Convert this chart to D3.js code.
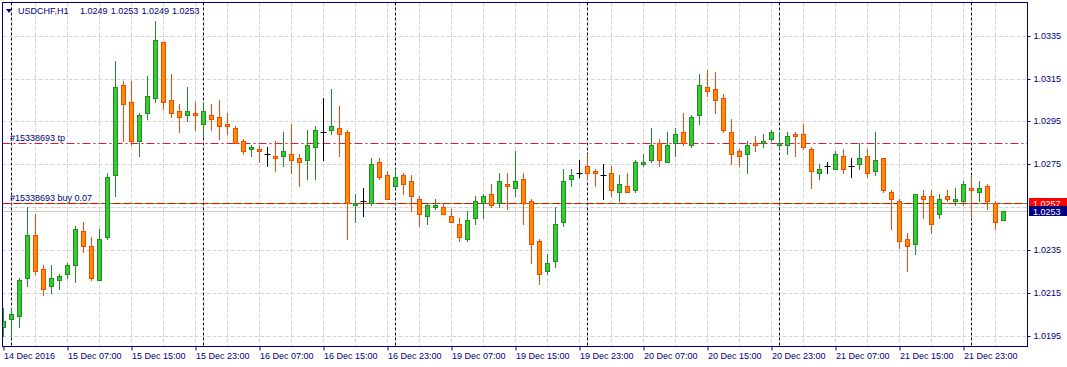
<!DOCTYPE html>
<meta charset="utf-8">
<style>

body { margin: 0; background: #fff; }

svg {
  display: block;
  font-family: "Liberation Sans", Arial, sans-serif;
  font-size: 9px;
}

.grid line {
  stroke: #d4d4d4;
  stroke-dasharray: 4,2;
}

.sep line {
  stroke: #000080;
  stroke-dasharray: 3,2;
}

.axis text { fill: #000080; font-family: "Liberation Sans", Arial, sans-serif; font-size: 9px; }
.axis line { stroke: #000080; }

</style>
<body>
  <svg></svg>
</body>
<script src="https://cdn.jsdelivr.net/npm/d3@7"></script>
<script>

// ---- data ----
var symbol = "USDCHF,H1";

var timeLabels = ["14 Dec 2016", "15 Dec 07:00", "15 Dec 15:00", "15 Dec 23:00",
  "16 Dec 07:00", "16 Dec 15:00", "16 Dec 23:00", "19 Dec 07:00", "19 Dec 15:00",
  "19 Dec 23:00", "20 Dec 07:00", "20 Dec 15:00", "20 Dec 23:00", "21 Dec 07:00",
  "21 Dec 15:00", "21 Dec 23:00"];
var labelBars = [0, 8, 16, 24, 32, 40, 48, 56, 64, 72, 80, 88, 96, 104, 112, 120];
var daySeparators = [1, 25, 49, 73, 97, 121];

var priceGrid = [1.0195, 1.0215, 1.0235, 1.0255, 1.0275, 1.0295, 1.0315, 1.0335];
var priceLabels = [1.0195, 1.0215, 1.0235, 1.0275, 1.0295, 1.0315, 1.0335];

var opens = [1.0199, 1.0203, 1.0204, 1.0222, 1.0242, 1.0226, 1.0218, 1.0221, 1.0224, 1.0228,
  1.0244, 1.0237, 1.0221, 1.0241, 1.0270, 1.0312, 1.0304, 1.0286, 1.0299, 1.0306,
  1.0332, 1.0305, 1.0300, 1.0298, 1.0299, 1.0294, 1.0298, 1.0297, 1.0294, 1.0292,
  1.0286, 1.0282, 1.0282, 1.0280, 1.0279, 1.0279, 1.0280, 1.0278, 1.0277, 1.0283,
  1.0290, 1.0291, 1.0292, 1.0290, 1.0256, 1.0258, 1.0257, 1.0276, 1.0270, 1.0265,
  1.0270, 1.0267, 1.0259, 1.0251, 1.0255, 1.0255, 1.0251, 1.0247, 1.0240, 1.0250,
  1.0257, 1.0261, 1.0257, 1.0266, 1.0264, 1.0268, 1.0258, 1.0239, 1.0225, 1.0230,
  1.0248, 1.0268, 1.0271, 1.0274, 1.0272, 1.0270, 1.0271, 1.0262, 1.0265, 1.0263,
  1.0275, 1.0277, 1.0285, 1.0276, 1.0285, 1.0290, 1.0284, 1.0298, 1.0311, 1.0310,
  1.0306, 1.0290, 1.0281, 1.0280, 1.0285, 1.0285, 1.0287, 1.0284, 1.0284, 1.0289,
  1.0289, 1.0282, 1.0271, 1.0274, 1.0273, 1.0279, 1.0274, 1.0275, 1.0279, 1.0272,
  1.0278, 1.0262, 1.0258, 1.0240, 1.0238, 1.0260, 1.0260, 1.0252, 1.0260, 1.0258,
  1.0258, 1.0264, 1.0262, 1.0265, 1.0257, 1.0249];

var highs = [1.0208, 1.0208, 1.0222, 1.0255, 1.0252, 1.0228, 1.0228, 1.0224, 1.0229, 1.0246,
  1.0248, 1.0241, 1.0245, 1.0271, 1.0323, 1.0314, 1.0314, 1.0299, 1.0316, 1.0342,
  1.0332, 1.0317, 1.0303, 1.0311, 1.0304, 1.0304, 1.0303, 1.0305, 1.0299, 1.0293,
  1.0287, 1.0284, 1.0284, 1.0283, 1.0286, 1.0290, 1.0294, 1.0280, 1.0291, 1.0293,
  1.0306, 1.0310, 1.0302, 1.0291, 1.0261, 1.0264, 1.0278, 1.0278, 1.0272, 1.0273,
  1.0271, 1.0270, 1.0260, 1.0257, 1.0259, 1.0257, 1.0254, 1.0250, 1.0253, 1.0260,
  1.0261, 1.0266, 1.0271, 1.0271, 1.0281, 1.0271, 1.0259, 1.0240, 1.0233, 1.0255,
  1.0273, 1.0273, 1.0277, 1.0280, 1.0273, 1.0275, 1.0274, 1.0270, 1.0271, 1.0277,
  1.0280, 1.0292, 1.0287, 1.0290, 1.0292, 1.0299, 1.0298, 1.0317, 1.0319, 1.0318,
  1.0308, 1.0296, 1.0282, 1.0286, 1.0288, 1.0289, 1.0291, 1.0290, 1.0290, 1.0290,
  1.0294, 1.0283, 1.0275, 1.0276, 1.0281, 1.0282, 1.0278, 1.0285, 1.0282, 1.0290,
  1.0278, 1.0263, 1.0259, 1.0243, 1.0261, 1.0263, 1.0263, 1.0261, 1.0263, 1.0264,
  1.0267, 1.0270, 1.0267, 1.0266, 1.0258, 1.0253];

var lows = [1.0195, 1.0195, 1.0199, 1.0218, 1.0224, 1.0214, 1.0215, 1.0217, 1.0222, 1.0220,
  1.0234, 1.0221, 1.0221, 1.0240, 1.0260, 1.0286, 1.0284, 1.0279, 1.0296, 1.0304,
  1.0301, 1.0297, 1.0290, 1.0295, 1.0291, 1.0288, 1.0291, 1.0287, 1.0289, 1.0285,
  1.0280, 1.0279, 1.0276, 1.0274, 1.0272, 1.0274, 1.0271, 1.0265, 1.0268, 1.0268,
  1.0277, 1.0289, 1.0279, 1.0240, 1.0248, 1.0251, 1.0256, 1.0268, 1.0259, 1.0264,
  1.0261, 1.0253, 1.0246, 1.0247, 1.0254, 1.0252, 1.0248, 1.0239, 1.0239, 1.0247,
  1.0250, 1.0255, 1.0255, 1.0254, 1.0260, 1.0247, 1.0229, 1.0219, 1.0224, 1.0227,
  1.0246, 1.0265, 1.0269, 1.0268, 1.0265, 1.0259, 1.0260, 1.0258, 1.0262, 1.0262,
  1.0274, 1.0276, 1.0274, 1.0276, 1.0279, 1.0284, 1.0283, 1.0294, 1.0307, 1.0299,
  1.0290, 1.0275, 1.0274, 1.0271, 1.0281, 1.0283, 1.0286, 1.0282, 1.0280, 1.0279,
  1.0282, 1.0264, 1.0268, 1.0271, 1.0273, 1.0271, 1.0269, 1.0273, 1.0269, 1.0270,
  1.0262, 1.0245, 1.0236, 1.0225, 1.0233, 1.0250, 1.0243, 1.0250, 1.0258, 1.0256,
  1.0256, 1.0250, 1.0258, 1.0254, 1.0245, 1.0249];

var closes = [1.0202, 1.0205, 1.0221, 1.0242, 1.0225, 1.0217, 1.0222, 1.0223, 1.0228, 1.0245,
  1.0237, 1.0222, 1.0240, 1.0269, 1.0311, 1.0303, 1.0286, 1.0298, 1.0307, 1.0333,
  1.0304, 1.0299, 1.0297, 1.0300, 1.0298, 1.0300, 1.0296, 1.0293, 1.0293, 1.0285,
  1.0281, 1.0283, 1.0281, 1.0280, 1.0278, 1.0281, 1.0277, 1.0276, 1.0284, 1.0291,
  1.0290, 1.0293, 1.0289, 1.0257, 1.0257, 1.0258, 1.0275, 1.0269, 1.0259, 1.0269,
  1.0266, 1.0260, 1.0252, 1.0256, 1.0256, 1.0252, 1.0248, 1.0241, 1.0249, 1.0258,
  1.0260, 1.0256, 1.0267, 1.0265, 1.0267, 1.0257, 1.0238, 1.0224, 1.0229, 1.0247,
  1.0267, 1.0270, 1.0271, 1.0271, 1.0271, 1.0270, 1.0263, 1.0266, 1.0262, 1.0276,
  1.0276, 1.0284, 1.0277, 1.0284, 1.0289, 1.0285, 1.0297, 1.0312, 1.0309, 1.0305,
  1.0291, 1.0280, 1.0279, 1.0284, 1.0284, 1.0286, 1.0290, 1.0285, 1.0288, 1.0288,
  1.0283, 1.0272, 1.0273, 1.0274, 1.0280, 1.0273, 1.0274, 1.0278, 1.0271, 1.0277,
  1.0263, 1.0259, 1.0239, 1.0237, 1.0261, 1.0259, 1.0247, 1.0259, 1.0259, 1.0259,
  1.0266, 1.0263, 1.0264, 1.0258, 1.0248, 1.0253];

var orderId = "#15338693";
var tpLevel = 1.0285;
var buyLevel = 1.0257, buyLots = "0.07";
var bidLevel = 1.0253;

// ---- drawing ----
var width = 1067, height = 367;
var plotLeft = 2.5, plotRight = 1027.5, plotTop = 2.5, plotBottom = 346.5;

var svg = d3.select("svg").attr("width", width).attr("height", height);

var x = d3.scaleLinear().domain([0, 125]).range([3.5, 1003.5]);
var y = d3.scaleLinear().domain([1.0195, 1.0335]).range([335.7, 35.7]);

function py(v) { return Math.round(y(v)) + 0.5; }

svg.append("defs").append("clipPath").attr("id", "plot")
  .append("rect").attr("x", plotLeft + 0.5).attr("y", plotTop + 0.5)
  .attr("width", plotRight - plotLeft - 1).attr("height", plotBottom - plotTop - 1);

// grid
var grid = svg.append("g").attr("class", "grid");
grid.selectAll("line.h")
  .data(priceGrid)
  .enter().append("line").attr("class", "h")
    .attr("x1", plotLeft).attr("x2", plotRight)
    .attr("y1", function(d) { return py(d); })
    .attr("y2", function(d) { return py(d); });
grid.selectAll("line.v")
  .data(d3.range(4, opens.length, 4))
  .enter().append("line").attr("class", "v")
    .attr("x1", function(d) { return x(d); })
    .attr("x2", function(d) { return x(d); })
    .attr("y1", plotTop).attr("y2", plotBottom);

// day separators
svg.append("g").attr("class", "sep")
  .selectAll("line")
  .data(daySeparators)
  .enter().append("line")
    .attr("x1", function(d) { return x(d); })
    .attr("x2", function(d) { return x(d); })
    .attr("y1", plotTop).attr("y2", plotBottom);

// bid line
svg.append("line")
  .attr("x1", plotLeft).attr("x2", plotRight)
  .attr("y1", py(bidLevel)).attr("y2", py(bidLevel))
  .attr("stroke", "#c8c8c8");

// order lines
svg.append("line")
  .attr("x1", plotLeft).attr("x2", plotRight)
  .attr("y1", py(buyLevel)).attr("y2", py(buyLevel))
  .attr("stroke", "#32cd32");
svg.append("line")
  .attr("x1", plotLeft).attr("x2", plotRight)
  .attr("y1", py(buyLevel)).attr("y2", py(buyLevel))
  .attr("stroke", "#ff0000")
  .attr("stroke-dasharray", "8,3");
svg.append("line")
  .attr("x1", plotLeft).attr("x2", plotRight)
  .attr("y1", py(tpLevel)).attr("y2", py(tpLevel))
  .attr("stroke", "#e0143c")
  .attr("stroke-dasharray", "8,3,2,3");

svg.append("text")
  .attr("x", 10).attr("y", py(tpLevel) - 3)
  .attr("fill", "#000080")
  .text(orderId + " tp");
svg.append("text")
  .attr("x", 10).attr("y", py(buyLevel) - 3)
  .attr("fill", "#000080")
  .text(orderId + " buy " + buyLots);

// candles
var bars = opens.map(function(o, i) {
  return { i: i, o: o, h: highs[i], l: lows[i], c: closes[i] };
});

function kind(d) { return d.c > d.o ? "up" : (d.c < d.o ? "down" : "doji"); }
var wickColor = { up: "#228b22", down: "#ff4500", doji: "#000000" };
var bodyFill = { up: "#32cd32", down: "#ff8c00" };

var candle = svg.append("g")
    .attr("clip-path", "url(#plot)")
  .selectAll("g")
  .data(bars)
  .enter().append("g");

candle.append("line")
  .attr("x1", function(d) { return x(d.i); })
  .attr("x2", function(d) { return x(d.i); })
  .attr("y1", function(d) { return py(d.h) - 0.5; })
  .attr("y2", function(d) { return py(d.l) + 0.5; })
  .attr("stroke", function(d) { return wickColor[kind(d)]; });

candle.filter(function(d) { return kind(d) != "doji"; })
  .append("rect")
    .attr("x", function(d) { return x(d.i) - 2; })
    .attr("width", 4)
    .attr("y", function(d) { return py(Math.max(d.o, d.c)); })
    .attr("height", function(d) { return Math.max(1, py(Math.min(d.o, d.c)) - py(Math.max(d.o, d.c))); })
    .attr("fill", function(d) { return bodyFill[kind(d)]; })
    .attr("stroke", function(d) { return wickColor[kind(d)]; });

candle.filter(function(d) { return kind(d) == "doji"; })
  .append("line")
    .attr("x1", function(d) { return x(d.i) - 3; })
    .attr("x2", function(d) { return x(d.i) + 3; })
    .attr("y1", function(d) { return py(d.o); })
    .attr("y2", function(d) { return py(d.o); })
    .attr("stroke", "#000");

// frame
svg.append("rect")
  .attr("x", plotLeft).attr("y", plotTop)
  .attr("width", plotRight - plotLeft).attr("height", plotBottom - plotTop)
  .attr("fill", "none").attr("stroke", "#000080");

// price axis
var yAxis = svg.append("g")
    .attr("class", "axis")
    .attr("transform", "translate(" + plotRight + ",0)")
    .call(d3.axisRight(y).tickValues(priceLabels).tickSize(3).tickPadding(3)
      .tickFormat(d3.format(".4f")));
yAxis.select(".domain").remove();
yAxis.selectAll(".tick").attr("transform", function(d) { return "translate(0," + py(d) + ")"; });

// time axis
var xAxis = svg.append("g")
    .attr("class", "axis")
    .attr("transform", "translate(0," + plotBottom + ")")
    .call(d3.axisBottom(x).tickValues(labelBars).tickSize(4).tickPadding(2)
      .tickFormat(function(d, i) { return timeLabels[i]; }));
xAxis.select(".domain").remove();
xAxis.selectAll("text").attr("text-anchor", "start").attr("x", 0);

// price tags
function tag(v, fill) {
  var cy = Math.round(y(v));
  svg.append("rect")
    .attr("x", 1029).attr("y", cy - 5)
    .attr("width", 38).attr("height", 10)
    .attr("fill", fill);
  svg.append("text")
    .attr("x", 1033).attr("y", cy + 3.5)
    .attr("fill", "#fff")
    .text(d3.format(".4f")(v));
}
tag(buyLevel, "#ff0000");
tag(bidLevel, "#000080");

// title
svg.append("path")
  .attr("d", "M6,9 L12,9 L9,13 Z")
  .attr("fill", "#000080");
var last = bars[bars.length - 1];
var title = svg.append("text").attr("y", 14).attr("fill", "#000080");
title.append("tspan").attr("x", 18).text(symbol);
[last.o, last.h, last.l, last.c].forEach(function(v, k) {
  title.append("tspan").attr("x", 80 + k * 30.7).text(d3.format(".4f")(v));
});

</script>
